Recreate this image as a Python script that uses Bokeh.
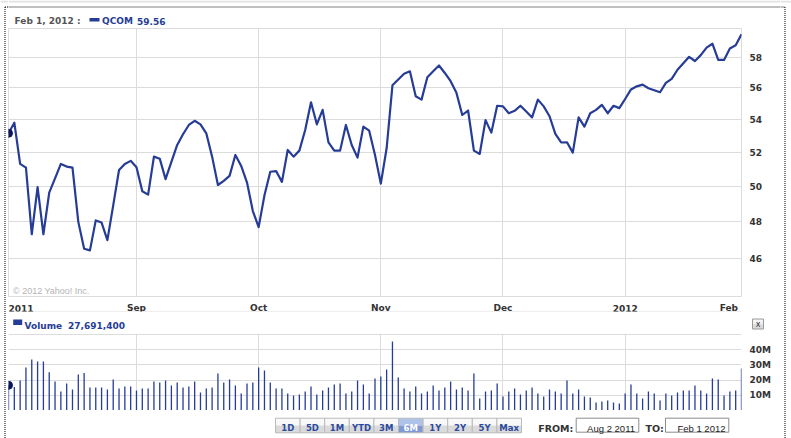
from bokeh.plotting import figure
from bokeh.layouts import column, row
from bokeh.models import Range1d, FixedTicker, PrintfTickFormatter, Label
from bokeh.core.properties import value
from bokeh.embed import file_html
from bokeh.resources import INLINE

# ---------------- data ----------------
symbol = "QCOM"
last_date_label = "Feb 1, 2012 :"
last_close = "59.56"
last_volume = "27,691,400"
copyright_text = "\u00a9 2012 Yahoo! Inc."

price = [
    53.15, 53.80, 51.31, 51.09, 47.32, 49.96, 47.32, 49.64, 50.46, 51.31,
    51.15, 51.09, 48.00, 46.54, 46.45, 48.08, 47.96, 47.00, 48.92, 50.95,
    51.31, 51.49, 51.11, 49.72, 49.53, 51.74, 51.62, 50.42, 51.43, 52.44,
    53.09, 53.66, 53.92, 53.70, 53.15, 51.74, 50.08, 50.32, 50.61, 51.84,
    51.19, 50.22, 48.60, 47.71, 49.49, 50.85, 50.89, 50.26, 52.14, 51.74,
    52.10, 53.35, 55.08, 53.70, 54.60, 52.60, 52.10, 52.10, 53.66, 52.44,
    51.68, 53.56, 53.31, 51.84, 50.16, 52.24, 56.17, 56.54, 56.92, 57.08,
    55.46, 55.25, 56.69, 57.08, 57.46, 56.97, 56.43, 55.68, 54.28, 54.56,
    52.10, 51.90, 53.96, 53.19, 54.86, 54.82, 54.39, 54.54, 54.86, 54.50,
    54.13, 55.25, 54.82, 54.20, 53.11, 52.59, 52.60, 51.98, 54.13, 53.56,
    54.39, 54.60, 54.92, 54.39, 54.86, 54.71, 55.29, 55.90, 56.10, 56.21,
    55.98, 55.85, 55.72, 56.32, 56.58, 57.18, 57.61, 58.04, 57.76, 58.15,
    58.66, 58.92, 57.83, 57.83, 58.60, 58.81, 59.56,
]

volume_millions = [
    16.6, 15.4, 19.7, 28.3, 33.6, 32.2, 32.2, 25.2, 19.1, 12.5,
    17.8, 13.8, 23.7, 24.6, 15.1, 15.1, 15.1, 13.8, 20.4, 14.5,
    15.8, 15.8, 13.2, 14.5, 14.5, 19.1, 18.4, 19.7, 16.4, 18.4,
    15.1, 15.8, 19.1, 11.8, 14.5, 15.1, 24.3, 18.4, 20.4, 16.4,
    11.2, 17.8, 18.4, 28.3, 26.3, 18.4, 14.5, 14.5, 11.2, 9.9,
    10.5, 12.5, 15.8, 10.5, 13.2, 15.1, 17.1, 17.8, 11.2, 12.5,
    19.7, 17.1, 11.2, 21.1, 22.4, 27.0, 45.4, 21.7, 14.5, 12.5,
    15.8, 11.2, 12.5, 16.4, 13.2, 15.1, 19.1, 13.8, 15.1, 13.2,
    24.3, 7.9, 12.5, 13.2, 17.8, 9.2, 12.5, 14.5, 10.5, 13.2,
    15.1, 11.2, 9.2, 13.8, 12.5, 11.2, 19.7, 11.2, 13.8, 9.2,
    8.6, 5.3, 5.9, 6.6, 5.3, 4.6, 11.2, 17.1, 11.2, 7.9,
    12.5, 11.2, 6.6, 11.2, 9.9, 11.8, 13.2, 13.2, 16.4, 13.2,
    11.2, 21.1, 20.4, 9.9, 12.5, 13.2, 27.69,
]

# trading-day index of each month start (first = Aug 2 2011, last = Feb 1 2012)
month_start_idx = [0, 22, 43, 64, 85, 106, 126]
month_labels = ["2011", "Sep", "Oct", "Nov", "Dec", "2012", "Feb"]

price_ticks = [46, 48, 50, 52, 54, 56, 58]
volume_ticks = [10, 20, 30, 40]
volume_tick_labels = ["10M", "20M", "30M", "40M"]
volume_grid = [10, 20, 30, 40, 50]

range_buttons = ["1D", "5D", "1M", "YTD", "3M", "6M", "1Y", "2Y", "5Y", "Max"]
selected_button = "6M"
from_date = "Aug 2 2011"
to_date = "Feb 1 2012"

# ---------------- styling ----------------
NAVY = "#263c96"
DOT = "#0c165c"
GRID = "#dcdcdc"
LABEL = "#333333"
FONT = "DejaVu Sans"
SANS = "Liberation Sans"
MID_W = 772          # width of the centre column
FRAME_RIGHT = 39     # room for the right-hand value axes

idx = list(range(len(price)))
n_last = len(price) - 1


def base_fig(w, h, **kw):
    f = figure(width=w, height=h, output_backend="svg", toolbar_location=None,
               min_border_left=0, min_border_right=0, min_border_top=0,
               min_border_bottom=0, **kw)
    f.background_fill_color = "white"
    f.border_fill_color = "white"
    f.outline_line_color = None
    return f


def deco(w, h):
    """Figure whose frame is the whole canvas, in pixel units (y downwards)."""
    f = base_fig(w, h, x_range=Range1d(0, w), y_range=Range1d(h, 0))
    f.frame_align = False
    f.axis.visible = False
    f.grid.visible = False
    return f


def txt(f, x, y, s, size="9px", color=LABEL, bold=True, align="left",
        baseline="alphabetic", font=FONT):
    f.text(x=[x], y=[y], text=[s], text_font=value(font), text_font_size=value(size),
           text_font_style="bold" if bold else "normal", text_color=color,
           text_align=align, text_baseline=baseline)


def box(f, l, r, t, b, fill=None, line=None):
    f.quad(left=[l], right=[r], top=[t], bottom=[b],
           fill_color=fill if fill else None, fill_alpha=1 if fill else 0,
           line_color=line if line else None, line_width=1)


def style_value_axis(ax, standoff):
    ax.axis_line_color = None
    ax.major_tick_line_color = None
    ax.minor_tick_line_color = None
    ax.major_label_standoff = standoff
    ax.major_label_text_font = FONT
    ax.major_label_text_font_style = "bold"
    ax.major_label_text_font_size = "9px"
    ax.major_label_text_color = LABEL


# ---------------- header row (page y 0..27) ----------------
head = deco(MID_W, 27)
box(head, 0, MID_W, 0, 2, fill="#e2e2e2")
head.segment(x0=[-4], y0=[6.5], x1=[MID_W], y1=[6.5], line_color="black",
             line_width=1, line_dash="1 1")
txt(head, 6, 20.7, last_date_label, color="#555555")
box(head, 81, 91, 17.5, 21, fill=NAVY)
txt(head, 93.5, 20.7, symbol, color=NAVY)
txt(head, 128.5, 20.7, last_close, color=NAVY)

# ---------------- price panel (frame page y 28..296) ----------------
x_rng = Range1d(0, n_last)
p1 = base_fig(MID_W, 270, x_range=x_rng, y_range=Range1d(44.05, 59.96),
              y_axis_type="log", y_axis_location="right")
p1.min_border_top = 1
p1.min_border_bottom = 1
p1.min_border_right = FRAME_RIGHT
p1.outline_line_color = GRID
p1.xaxis.visible = False
p1.ygrid.ticker = FixedTicker(ticks=price_ticks)
p1.ygrid.grid_line_color = GRID
p1.xgrid.ticker = FixedTicker(ticks=month_start_idx[1:-1])
p1.xgrid.grid_line_color = GRID
p1.yaxis.ticker = FixedTicker(ticks=price_ticks)
p1.yaxis.formatter = PrintfTickFormatter(format="%d")
style_value_axis(p1.yaxis, 2)

p1.line(idx, price, line_color=NAVY, line_width=2.2, line_join="round")
p1.scatter([idx[0]], [price[0]], size=8, color=DOT)
p1.add_layout(Label(x=4.5, y=263.5, x_units="canvas", y_units="canvas",
                    text=copyright_text, text_font=SANS, text_font_size="9px",
                    text_color="#b4b4b4", text_baseline="alphabetic"))

# ---------------- month label row (page y 297..312) ----------------
strip = base_fig(MID_W, 15, x_range=x_rng, y_range=Range1d(15, 0))
strip.min_border_right = FRAME_RIGHT
strip.axis.visible = False
strip.grid.visible = False
lab_kw = dict(text_font=value(FONT), text_font_size=value("9px"),
              text_font_style="bold", text_color=LABEL, text_baseline="alphabetic")
strip.text(x=month_start_idx[:1], y=[10.5], text=month_labels[:1], text_align="left", **lab_kw)
strip.text(x=month_start_idx[1:-1], y=[10.5] * 5, text=month_labels[1:-1],
           text_align="center", **lab_kw)
strip.text(x=[month_start_idx[-1] - 0.6], y=[10.5], text=month_labels[-1:],
           text_align="right", **lab_kw)
strip.segment(x0=[month_start_idx[0]], y0=[14.5], x1=[month_start_idx[-1]], y1=[14.5],
              line_color=GRID, line_width=1)

# ---------------- volume header (page y 312..333) ----------------
vhead = deco(MID_W, 21)
box(vhead, 4.7, 13.7, 7, 12.5, fill=NAVY)
txt(vhead, 16, 13, "Volume", color=NAVY)
txt(vhead, 59.5, 13, last_volume, color=NAVY)
box(vhead, 744, 755, 6.5, 11.5, fill="#f4f4f4")
box(vhead, 744, 755, 11.5, 16.5, fill="#dcdcdc")
box(vhead, 744, 755, 6.5, 16.5, line="#9a9a9a")
txt(vhead, 749.5, 11.8, "x", size="8px", color="#333333", bold=False,
    align="center", baseline="middle")

# ---------------- volume panel (page y 333..410) ----------------
p2 = base_fig(MID_W, 77, x_range=x_rng, y_range=Range1d(0, 50.66), y_axis_location="right")
p2.min_border_right = FRAME_RIGHT
p2.xaxis.visible = False
p2.ygrid.ticker = FixedTicker(ticks=volume_grid)
p2.ygrid.grid_line_color = GRID
p2.xgrid.ticker = FixedTicker(ticks=month_start_idx)
p2.xgrid.grid_line_color = GRID
p2.yaxis.ticker = FixedTicker(ticks=volume_ticks)
p2.yaxis.major_label_overrides = {t: s for t, s in zip(volume_ticks, volume_tick_labels)}
style_value_axis(p2.yaxis, 2)
p2.segment(x0=idx, y0=[0] * len(idx), x1=idx, y1=volume_millions,
           line_color=NAVY, line_width=1.3)
p2.scatter([idx[0]], [volume_millions[0]], size=8, color=DOT)

# ---------------- button row (page y 410..438) ----------------
foot = deco(MID_W, 28)
btn_left, btn_w, btn_top, btn_bot = 267.0, 24.6, 7.7, 22.3
mid = (btn_top + btn_bot) / 2
for k, name in enumerate(range_buttons):
    x0 = btn_left + k * btn_w
    x1 = x0 + btn_w
    sel = name == selected_button
    top_c, bot_c = ("#aec2ea", "#8099d4") if sel else ("#f8f8f8", "#dadada")
    box(foot, x0, x1, btn_top, mid, fill=top_c)
    box(foot, x0, x1, mid, btn_bot, fill=bot_c)
    box(foot, x0, x1, btn_top, btn_bot, line="#bababa")
    txt(foot, (x0 + x1) / 2, 17.9, name, size="8.5px",
        color="#ffffff" if sel else "#2c4a9e", align="center")
txt(foot, 529.7, 18.3, "FROM:", size="9.5px", color="#333333")
box(foot, 567.7, 630.3, 7.7, 21.7, fill="#ffffff", line="#8c8c8c")
txt(foot, 626.5, 17.8, from_date, size="9.5px", color="#222222", bold=False,
    align="right", font=SANS)
txt(foot, 637, 18.3, "TO:", size="9.5px", color="#333333")
box(foot, 657, 720.3, 7.7, 21.7, fill="#ffffff", line="#8c8c8c")
txt(foot, 717, 17.8, to_date, size="9.5px", color="#222222", bold=False,
    align="right", font=SANS)

# ---------------- side strips with the dotted frame ----------------
left = deco(8, 438)
box(left, 0, 8, 0, 2, fill="#e2e2e2")
left.segment(x0=[4.5], y0=[6.5], x1=[4.5], y1=[438], line_color="black",
             line_width=1, line_dash="1 1")
left.segment(x0=[4.5], y0=[6.5], x1=[8], y1=[6.5], line_color="black",
             line_width=1, line_dash="1 1")
right = deco(11, 438)
box(right, 0, 11, 0, 2, fill="#e2e2e2")
right.segment(x0=[4.5], y0=[6.5], x1=[4.5], y1=[438], line_color="black",
              line_width=1, line_dash="1 1")
right.segment(x0=[0], y0=[6.5], x1=[4.5], y1=[6.5], line_color="black",
              line_width=1, line_dash="1 1")

middle = column(head, p1, strip, vhead, p2, foot, spacing=0)
layout = row(left, middle, right, spacing=0)
open("out.html", "w").write(file_html(layout, INLINE))
